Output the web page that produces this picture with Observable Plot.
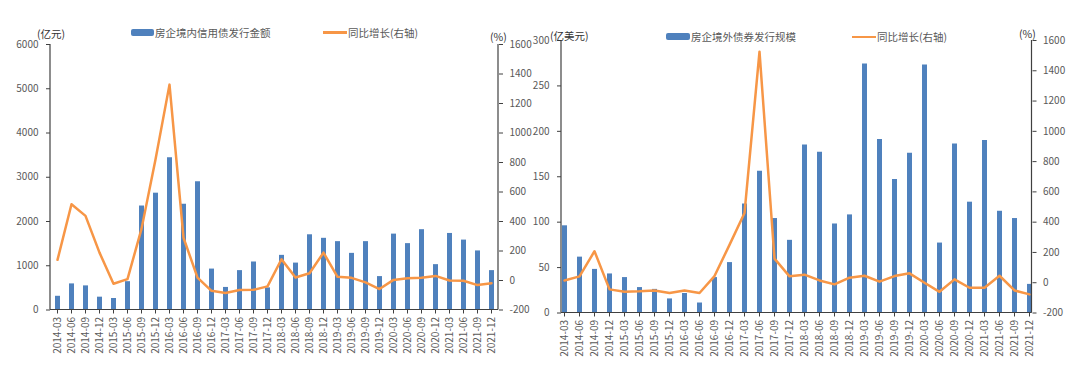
<!DOCTYPE html>
<html>
<head>
<meta charset="utf-8">
<script src="https://cdn.jsdelivr.net/npm/d3@7"></script>
<script src="https://cdn.jsdelivr.net/npm/@observablehq/plot@0.6"></script>
<style>
  html, body { margin: 0; padding: 0; background: #fff; }
  body { width: 1080px; height: 369px; position: relative; overflow: hidden; font-family: "Noto Sans CJK SC", "Noto Sans", sans-serif; }
  .panel { position: absolute; top: 0; }
  .t { position: absolute; white-space: nowrap; color: #595959; font-size: 10.5px; line-height: 1; transform: translateY(-50%); }
  .unit { color: #333; font-size: 10.5px; }
  .sw { position: absolute; background: #4F81BD; border-radius: 2px; }
  .ln { position: absolute; background: #F79646; height: 2.5px; }
</style>
</head>
<body>
<div id="left" class="panel" style="left:0px"></div>
<div id="right" class="panel" style="left:530px"></div>

<div class="t unit" style="left:37px; top:34px">(亿元)</div>
<div class="t unit" style="left:490px; top:37px">(%)</div>
<div class="sw" style="left:131px; top:29px; width:23px; height:7px"></div>
<div class="t" style="left:155px; top:33px">房企境内信用债发行金额</div>
<div class="ln" style="left:323px; top:31px; width:24px"></div>
<div class="t" style="left:348px; top:33px">同比增长(右轴)</div>

<div class="t unit" style="left:550px; top:36px">(亿美元)</div>
<div class="t unit" style="left:1019px; top:34px">(%)</div>
<div class="sw" style="left:666px; top:33px; width:24px; height:7px"></div>
<div class="t" style="left:691px; top:37px">房企境外债券发行规模</div>
<div class="ln" style="left:852px; top:35.5px; width:24px"></div>
<div class="t" style="left:877px; top:37px">同比增长(右轴)</div>

<script>
const quarters = ["2014-03","2014-06","2014-09","2014-12","2015-03","2015-06","2015-09","2015-12",
  "2016-03","2016-06","2016-09","2016-12","2017-03","2017-06","2017-09","2017-12",
  "2018-03","2018-06","2018-09","2018-12","2019-03","2019-06","2019-09","2019-12",
  "2020-03","2020-06","2020-09","2020-12","2021-03","2021-06","2021-09","2021-12"];

// 房企境内信用债发行金额 (亿元)
const domesticAmount = [310, 590, 545, 290, 260, 640, 2350, 2640, 3440, 2390, 2900, 925,
  510, 890, 1085, 500, 1235, 1060, 1700, 1620, 1545, 1280, 1545, 755,
  1715, 1500, 1815, 1025, 1730, 1580, 1335, 890];
// 同比增长 (%)
const domesticYoY = [140, 517, 438, 189, -22, 9, 350, 820, 1328, 290, 20, -70,
  -85, -65, -63, -40, 144, 20, 49, 189, 25, 18, -13, -58,
  4, 16, 18, 31, 0, -2, -31, -18];

// 房企境外债券发行规模 (亿美元)
const overseasAmount = [96, 61.5, 48, 43, 39, 28, 26, 15.5, 21.5, 11, 39, 55.5,
  120, 156, 104, 80, 185, 177, 98, 108, 274, 191, 147, 176,
  273, 77, 186, 122, 190, 112, 104, 31.5];
// 同比增长 (%)
const overseasYoY = [15, 42, 208, -44, -60, -57, -51, -68, -51, -68, 44, 250,
  460, 1526, 159, 42, 53, 15, -11, 33, 46, 7, 44, 62,
  0, -60, 22, -33, -33, 46, -51, -77];

const leftTicks = [0, 1000, 2000, 3000, 4000, 5000, 6000];
const rightTicksL = [0, 50, 100, 150, 200, 250, 300];
const pctTicks = [-200, 0, 200, 400, 600, 800, 1000, 1200, 1400, 1600];

const BLUE = "#4F81BD", ORANGE = "#F79646", AXIS = "#404040", TEXT = "#595959";
const FONT = "'Noto Sans CJK SC', 'Noto Sans', sans-serif";

function axisLines() {
  return (index, scales, values, dim) => {
    const g = document.createElementNS("http://www.w3.org/2000/svg", "g");
    const x0 = dim.marginLeft, x1 = dim.width - dim.marginRight;
    const y0 = dim.marginTop, y1 = dim.height - dim.marginBottom;
    for (const [a, b, c, d] of [[x0, y0, x0, y1], [x1, y0, x1, y1], [x0, y1, x1, y1]]) {
      const l = document.createElementNS("http://www.w3.org/2000/svg", "line");
      l.setAttribute("x1", a); l.setAttribute("y1", b);
      l.setAttribute("x2", c); l.setAttribute("y2", d);
      l.setAttribute("stroke", AXIS); l.setAttribute("stroke-width", 1.2);
      g.appendChild(l);
    }
    return g;
  };
}

function chart({amount, yoy, yMax, yTicks, width, mL, mR, mT, mB, padding}) {
  const data = quarters.map((q, i) => ({q, v: amount[i], p: yoy[i]}));
  const k = yMax / 1800;
  const toY = p => (p + 200) * k;
  return Plot.plot({
    width, height: 369,
    marginLeft: mL, marginRight: mR, marginTop: mT, marginBottom: mB,
    x: {type: "point", domain: quarters, padding},
    y: {domain: [0, yMax]},
    style: {fontFamily: FONT, fontSize: "10px", color: TEXT, background: "transparent", overflow: "visible"},
    marks: [
      Plot.ruleX(data, {x: "q", y1: 0, y2: "v", stroke: BLUE, strokeWidth: 5}),
      Plot.line(data, {x: "q", y: d => toY(d.p), stroke: ORANGE, strokeWidth: 2.5, strokeLinejoin: "round"}),
      axisLines(),
      Plot.axisY(yTicks, {anchor: "left", tickSize: 4, tickPadding: 8, stroke: AXIS, fill: TEXT, label: null,
        tickFormat: d => String(d)}),
      Plot.axisY(pctTicks.map(toY), {anchor: "right", tickSize: 4, tickPadding: 7, stroke: AXIS, fill: TEXT, label: null,
        tickFormat: d => String(Math.round(d / k - 200))}),
      Plot.axisX({anchor: "bottom", tickSize: 4, tickPadding: 3, tickRotate: -90, stroke: AXIS, fill: TEXT, label: null})
    ]
  });
}

document.getElementById("left").appendChild(chart({
  amount: domesticAmount, yoy: domesticYoY, yMax: 6000, yTicks: leftTicks,
  width: 530, mL: 50, mR: 32, mT: 44, mB: 59.5, padding: 0.15
}));
document.getElementById("right").appendChild(chart({
  amount: overseasAmount, yoy: overseasYoY, yMax: 300, yTicks: rightTicksL,
  width: 550, mL: 31, mR: 48.5, mT: 40, mB: 56.5, padding: 0.15
}));
</script>
</body>
</html>
